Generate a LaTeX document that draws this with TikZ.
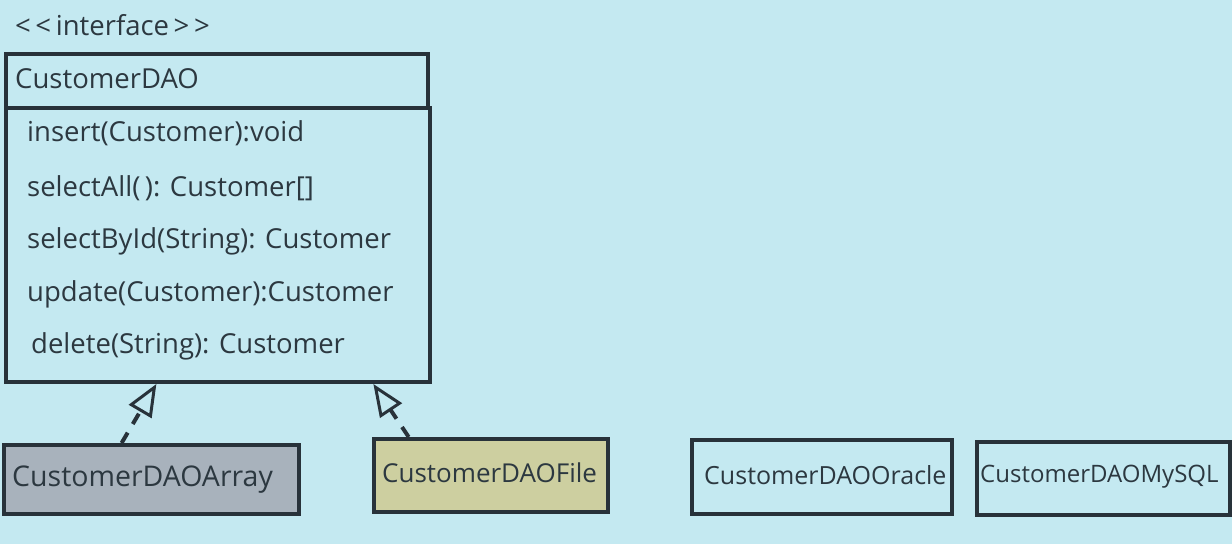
\documentclass[tikz,border=0pt]{standalone}
\usepackage{fontspec}
\setmainfont{Open Sans}
\usetikzlibrary{arrows.meta,calc}
\definecolor{bgc}{HTML}{C4E9F1}
\definecolor{ink}{HTML}{2C3840}
\definecolor{grayfill}{HTML}{A8B2BC}
\definecolor{khaki}{HTML}{CDCFA0}
\tikzset{
  umlbox/.style={draw=ink!90!black, line width=4pt, inner sep=0pt, anchor=north west},
  lbl/.style={text=ink, font=\fontsize{27.5}{32}\selectfont, inner sep=0pt, anchor=west},
  real/.style={draw=ink!90!black, line width=4pt, dash pattern=on 12pt off 10pt,
    -{Triangle[open, length=32pt, width=26pt, line width=3pt]}},
}
\begin{document}
\begin{tikzpicture}[x=1pt,y=-1pt]
\fill[bgc] (0,0) rectangle (1232,544);
\useasboundingbox (0,0) rectangle (1232,544);
% interface
\node[lbl] (stereo) at (15,25) {<\,<\,interface\,>\,>};
\node[umlbox, minimum width=422pt, minimum height=54pt] (name) at (4,52) {};
\node[lbl] (nametxt) at (15,79) {CustomerDAO};
\node[umlbox, minimum width=424pt, minimum height=274pt] (ops) at (4,106) {};
\node[lbl] (m1) at (27,133) {insert(Customer):void};
\node[lbl] (m2) at (27,188) {selectAll(\,): Customer[]};
\node[lbl] (m3) at (27,241) {selectById(String): Customer};
\node[lbl] (m4) at (27,294) {update(Customer):Customer};
\node[lbl] (m5) at (31,346) {delete(String): Customer};
% implementations
\node[umlbox, fill=grayfill, minimum width=295pt, minimum height=69pt] (arr) at (2,443) {};
\node[lbl, font=\fontsize{28.5}{32}\selectfont] at (arr.west) [xshift=10pt] {CustomerDAOArray};
\node[umlbox, fill=khaki, minimum width=234pt, minimum height=73pt] (file) at (372,437) {};
\node[lbl, font=\fontsize{26}{30}\selectfont] at (file.west) [xshift=10pt, yshift=3pt] {CustomerDAOFile};
\node[umlbox, minimum width=260pt, minimum height=74pt] (ora) at (690,438) {};
\node[lbl, font=\fontsize{25}{30}\selectfont] at (ora.west) [xshift=14pt, yshift=2pt] {CustomerDAOOracle};
\node[umlbox, minimum width=253pt, minimum height=73pt] (my) at (975,440) {};
\node[lbl, font=\fontsize{24}{30}\selectfont] at (my.west) [xshift=5pt, yshift=2pt] {CustomerDAOMySQL};
% realizations
\coordinate (a1) at ($(arr.north west)!0.40!(arr.north east)$);
\coordinate (a2) at ($(ops.south west)!0.356!(ops.south east)$);
\coordinate (f1) at ($(file.north west)!0.154!(file.north east)$);
\coordinate (f2) at ($(ops.south west)!0.863!(ops.south east)$);
\draw[real] (a1) -- (a2);
\draw[real] (f1) -- (f2);
\end{tikzpicture}
\end{document}
